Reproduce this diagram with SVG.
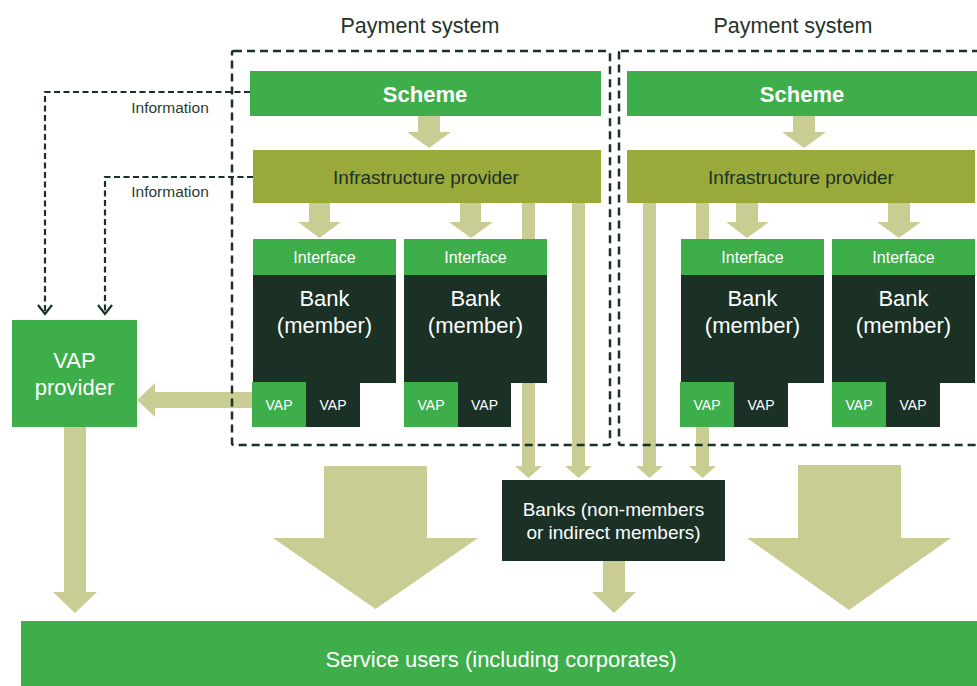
<svg xmlns="http://www.w3.org/2000/svg" width="977" height="686" viewBox="0 0 977 686">
<defs>
<style>
.t{font-family:"Liberation Sans",Arial,sans-serif;text-anchor:middle}
.green{fill:#3dae4a}
.olive{fill:#9aaa3a}
.dark{fill:#1b3126}
.flow{fill:#c9cd94}
.sys{fill:none;stroke:#1b3126;stroke-width:2.5;stroke-dasharray:8 5}
.info{fill:none;stroke:#1b3126;stroke-width:2.2;stroke-dasharray:6 3.5}
.chev{fill:none;stroke:#1b3126;stroke-width:2.2}
.w{fill:#ffffff}
.k{fill:#1b3126}
</style>
</defs>
<rect width="977" height="686" fill="#ffffff"/>

<g id="connectors">
  <polygon class="flow" points="418,116 440,116 440,132 451,132 429,148 407,132 418,132"/>
  <polygon class="flow" points="793,116 815,116 815,132 826,132 804,148 782,132 793,132"/>
  <polygon class="flow" points="309,203 330,203 330,222 341,222 319.5,238 298,222 309,222"/>
  <polygon class="flow" points="460,203 481,203 481,222 493,222 471,238 449,222 460,222"/>
  <polygon class="flow" points="736,203 758,203 758,222 769,222 747,238 726,222 736,222"/>
  <polygon class="flow" points="888,203 910,203 910,222 921,222 899,238 877,222 888,222"/>
  <polygon class="flow" points="522,203 535,203 535,466 542,466 528.5,478 515,466 522,466"/>
  <polygon class="flow" points="572,203 585,203 585,466 592,466 578.5,478 565,466 572,466"/>
  <polygon class="flow" points="643,203 656,203 656,466 663,466 649.5,478 636,466 643,466"/>
  <polygon class="flow" points="696,203 709,203 709,466 716,466 702.5,478 689,466 696,466"/>
  <polygon class="flow" points="254,392 155,392 155,383 137,400 155,417 155,408 254,408"/>
  <polygon class="flow" points="64,427 86,427 86,592 97,592 75,613 53,592 64,592"/>
  <polygon class="flow" points="324,466 427,466 427,538 478,538 375.5,609 273,538 324,538"/>
  <polygon class="flow" points="798,465 901,465 901,538 951,538 849,610 747,538 798,538"/>
  <polygon class="flow" points="603,561 625,561 625,592 636,592 614,613 592,592 603,592"/>
  <polyline class="info" points="250,92 45,92 45,313"/>
  <polyline class="chev" points="38,305 45,314 52,305"/>
  <polyline class="info" points="253,177 105,177 105,313"/>
  <polyline class="chev" points="98,305 105,314 112,305"/>
  <text class="t" x="170" y="113" font-size="15.5" fill="#2b3b33">Information</text>
  <text class="t" x="170" y="197" font-size="15.5" fill="#2b3b33">Information</text>
</g>

<g id="payment-system-1">
  <rect class="sys" x="232" y="51" width="378" height="394" rx="2"/>
  <text class="t" x="420" y="33" font-size="21.5" fill="#1f3328">Payment system</text>
</g>
<g id="payment-system-2">
  <rect class="sys" x="619" y="51" width="380" height="394" rx="2"/>
  <text class="t" x="793" y="33" font-size="21.5" fill="#1f3328">Payment system</text>
</g>

<g id="scheme-1">
  <rect class="green" x="250" y="71" width="351" height="45"/>
  <text class="t w" x="425" y="102" font-size="22" font-weight="bold">Scheme</text>
</g>
<g id="scheme-2">
  <rect class="green" x="627" y="71" width="350" height="45"/>
  <text class="t w" x="802" y="102" font-size="22" font-weight="bold">Scheme</text>
</g>
<g id="infra-1">
  <rect class="olive" x="253" y="150" width="348" height="53"/>
  <text class="t k" x="426" y="184" font-size="19">Infrastructure provider</text>
</g>
<g id="infra-2">
  <rect class="olive" x="627" y="150" width="348" height="53"/>
  <text class="t k" x="801" y="184" font-size="19">Infrastructure provider</text>
</g>

<g id="bank-1">
  <rect class="green" x="253" y="239" width="143" height="36"/>
  <text class="t w" x="324.5" y="263" font-size="16">Interface</text>
  <rect class="dark" x="253" y="275" width="143" height="108"/>
  <text class="t w" x="324.5" y="306" font-size="22">Bank</text>
  <text class="t w" x="324.5" y="333" font-size="22">(member)</text>
  <rect class="green" x="252" y="382" width="54" height="45"/>
  <rect class="dark" x="306" y="382" width="54" height="45"/>
  <text class="t w" x="279" y="410" font-size="14">VAP</text>
  <text class="t w" x="333" y="410" font-size="14">VAP</text>
</g>
<g id="bank-2">
  <rect class="green" x="404" y="239" width="143" height="36"/>
  <text class="t w" x="475.5" y="263" font-size="16">Interface</text>
  <rect class="dark" x="404" y="275" width="143" height="108"/>
  <text class="t w" x="475.5" y="306" font-size="22">Bank</text>
  <text class="t w" x="475.5" y="333" font-size="22">(member)</text>
  <rect class="green" x="404" y="382" width="54" height="45"/>
  <rect class="dark" x="458" y="382" width="53" height="45"/>
  <text class="t w" x="431" y="410" font-size="14">VAP</text>
  <text class="t w" x="484.5" y="410" font-size="14">VAP</text>
</g>
<g id="bank-3">
  <rect class="green" x="681" y="239" width="143" height="36"/>
  <text class="t w" x="752.5" y="263" font-size="16">Interface</text>
  <rect class="dark" x="681" y="275" width="143" height="108"/>
  <text class="t w" x="752.5" y="306" font-size="22">Bank</text>
  <text class="t w" x="752.5" y="333" font-size="22">(member)</text>
  <rect class="green" x="680" y="382" width="54" height="45"/>
  <rect class="dark" x="734" y="382" width="54" height="45"/>
  <text class="t w" x="707" y="410" font-size="14">VAP</text>
  <text class="t w" x="761" y="410" font-size="14">VAP</text>
</g>
<g id="bank-4">
  <rect class="green" x="832" y="239" width="143" height="36"/>
  <text class="t w" x="903.5" y="263" font-size="16">Interface</text>
  <rect class="dark" x="832" y="275" width="143" height="108"/>
  <text class="t w" x="903.5" y="306" font-size="22">Bank</text>
  <text class="t w" x="903.5" y="333" font-size="22">(member)</text>
  <rect class="green" x="832" y="382" width="54" height="45"/>
  <rect class="dark" x="886" y="382" width="54" height="45"/>
  <text class="t w" x="859" y="410" font-size="14">VAP</text>
  <text class="t w" x="913" y="410" font-size="14">VAP</text>
</g>

<g id="vap-provider">
  <rect class="green" x="12" y="320" width="125" height="107"/>
  <text class="t w" x="74.5" y="368" font-size="22">VAP</text>
  <text class="t w" x="74.5" y="395" font-size="22">provider</text>
</g>
<g id="banks-indirect">
  <rect class="dark" x="502" y="480" width="223" height="81"/>
  <text class="t w" x="613.5" y="516" font-size="19">Banks (non-members</text>
  <text class="t w" x="613.5" y="539" font-size="19">or indirect members)</text>
</g>
<g id="service-users">
  <rect class="green" x="21" y="621" width="956" height="65"/>
  <text class="t w" x="501" y="667" font-size="22">Service users (including corporates)</text>
</g>
</svg>
